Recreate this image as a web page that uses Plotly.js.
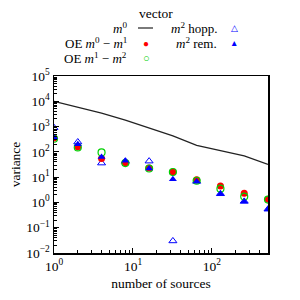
<!DOCTYPE html>
<html><head><meta charset="utf-8">
<script src="https://cdn.plot.ly/plotly-3.0.1.min.js"></script>
<style>html,body{margin:0;padding:0;background:#fff}#chart{width:300px;height:300px}</style>
</head><body><div id="chart"></div>
<script>
const sources = [1, 2, 4, 8, 16, 32, 64, 128, 256, 512];
const m0Vector = [10000, 6000, 3400, 1800, 880, 430, 180, 113, 69, 32];
const oeM0M1 = [350, 160, 55, 37, 23, 16, 7.8, 4.5, 2.3, 1.35];
const oeM1M2 = [330, 150, 95, 36, 22, 16, 7.2, 3.5, 1.7, 1.3];
const m2Hopp = [900, 245, 36, 42, 43, 0.03, 6.8, 2.2, 1.1, 0.54];
const m2Rem = [380, 200, 62, 45, 22, 8.3, 6.8, 2.2, 1.1, 0.54];
const xTickVals = [1, 10, 100];
const xTickText = ['10<sup>0</sup>', '10<sup>1</sup>', '10<sup>2</sup>'];
const yTickVals = [0.01, 0.1, 1, 10, 100, 1000, 10000, 100000];
const yTickText = ['10<sup>−2</sup>', '10<sup>−1</sup>', '10<sup>0</sup>', '10<sup>1</sup>', '10<sup>2</sup>', '10<sup>3</sup>', '10<sup>4</sup>', '10<sup>5</sup>'];

const FONT = 'Liberation Serif, Times New Roman, serif';
const FS = 13.5;
const LFS = 13;
const RED = '#ff0000', GREEN = '#00d000', BLUE = '#0000ff';

const traces = [
  {x: sources, y: m0Vector, mode: 'lines', line: {color: '#222', width: 1.2}, name: 'm0'},
  {x: sources, y: m2Hopp, mode: 'markers', marker: {symbol: 'triangle-up-open', size: 7, color: BLUE, line: {width: 1}}, name: 'hopp'},
  {x: sources, y: oeM0M1, mode: 'markers', marker: {symbol: 'circle', size: 7, color: RED}, name: 'oe01'},
  {x: sources, y: oeM1M2, mode: 'markers', marker: {symbol: 'circle-open', size: 7, color: GREEN, line: {width: 1.2}}, name: 'oe12'},
  {x: sources, y: m2Rem, mode: 'markers', marker: {symbol: 'triangle-up', size: 7, color: BLUE}, name: 'rem'}
];

function px2x(px) { return (px - 54) / 214; }
function px2y(py) { return (253 - py) / 177; }
function ann(text, px, py, xanchor, color, size) {
  return {text: text, x: px2x(px), y: px2y(py), xref: 'paper', yref: 'paper', xanchor: xanchor, yanchor: 'middle',
    showarrow: false, font: {family: FONT, size: size || LFS, color: color || '#000'}};
}

const layout = {
  width: 300, height: 300,
  margin: {l: 54, r: 32, t: 76, b: 47},
  paper_bgcolor: '#fff', plot_bgcolor: '#fff',
  showlegend: false,
  font: {family: FONT, size: FS, color: '#000'},
  xaxis: {
    type: 'log', range: [0, Math.log10(512)],
    tickmode: 'array', tickvals: xTickVals, ticktext: xTickText,
    ticks: 'inside', ticklen: 5, tickwidth: 1, tickcolor: '#000',
    minor: {ticks: 'inside', ticklen: 3, tickcolor: '#000', dtick: 'D1', showgrid: false},
    showline: true, linecolor: '#000', linewidth: 1.5, mirror: true,
    showgrid: false, zeroline: false,
    tickfont: {family: FONT, size: FS},
    title: {text: 'number of sources', font: {family: FONT, size: FS}, standoff: 6}
  },
  yaxis: {
    type: 'log', range: [-2, 5],
    tickmode: 'array', tickvals: yTickVals, ticktext: yTickText,
    ticks: 'inside', ticklen: 5, tickwidth: 1, tickcolor: '#000',
    minor: {ticks: 'inside', ticklen: 3, tickcolor: '#000', dtick: 'D1', showgrid: false},
    showline: true, linecolor: '#000', linewidth: 1.5, mirror: true,
    showgrid: false, zeroline: false,
    tickfont: {family: FONT, size: FS},
    title: {text: 'variance', font: {family: FONT, size: FS}, standoff: 2}
  },
  annotations: [
    ann('vector', 156, 13, 'center', '#000', FS),
    ann('<i>m</i><sup>0</sup>', 129, 28, 'right'),
    ann('OE <i>m</i><sup>0</sup> − <i>m</i><sup>1</sup>', 129, 43, 'right'),
    ann('OE <i>m</i><sup>1</sup> − <i>m</i><sup>2</sup>', 129, 58, 'right'),
    ann('<i>m</i><sup>2</sup> hopp.', 219, 28, 'right'),
    ann('<i>m</i><sup>2</sup> rem.', 219, 43, 'right'),
    ann('●', 146, 43, 'center', RED, 10),
    ann('○', 146, 58, 'center', GREEN, 11),
    ann('△', 234, 28, 'center', BLUE, 8.5),
    ann('▲', 234, 43, 'center', BLUE, 8.5)
  ],
  shapes: [
    {type: 'line', xref: 'paper', yref: 'paper', x0: px2x(138), x1: px2x(153), y0: px2y(28), y1: px2y(28), line: {color: '#222', width: 1.2}}
  ]
};

Plotly.newPlot('chart', traces, layout, {staticPlot: true, displayModeBar: false});
</script></body></html>
